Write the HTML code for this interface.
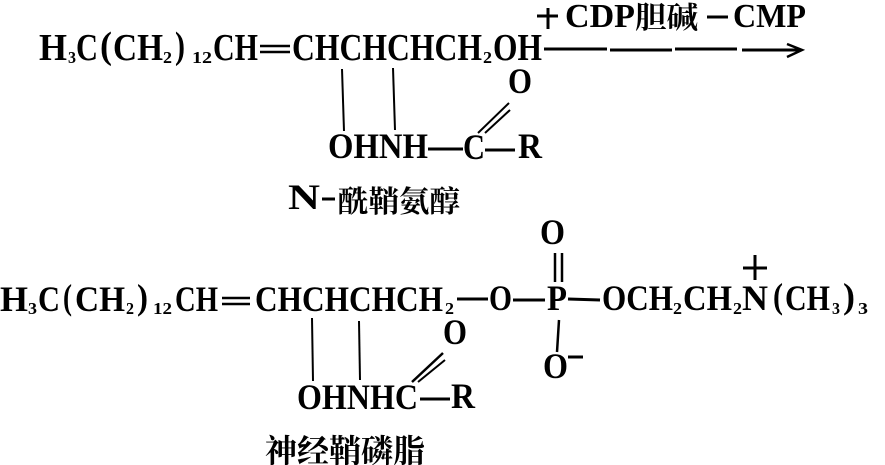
<!DOCTYPE html>
<html><head><meta charset="utf-8">
<style>
html,body{margin:0;padding:0;background:#fff;width:885px;height:465px;overflow:hidden}
svg{display:block}
text{font-family:"Liberation Serif","Noto Serif CJK SC",serif;font-weight:bold;fill:#000;font-size:36px}
.m{font-size:38px}
.t{font-size:34px}
.s{font-size:17px}
.c{font-family:"Noto Serif CJK SC","Liberation Serif",serif;font-size:30px}
line,path{stroke:#000;fill:none}
</style></head><body>
<svg width="885" height="465" viewBox="0 0 885 465" xmlns="http://www.w3.org/2000/svg">
<g>
<text class="m" x="39" y="60" textLength="28" lengthAdjust="spacingAndGlyphs">H</text>
<text class="s" x="68" y="63" textLength="8" lengthAdjust="spacingAndGlyphs">3</text>
<text class="m" x="76" y="60" textLength="22" lengthAdjust="spacingAndGlyphs">C</text>
<text class="m" x="100" y="58" textLength="12" lengthAdjust="spacingAndGlyphs">(</text>
<text class="m" x="113" y="60" textLength="50" lengthAdjust="spacingAndGlyphs">CH</text>
<text class="s" x="163" y="63" textLength="9" lengthAdjust="spacingAndGlyphs">2</text>
<text class="m" x="175" y="58" textLength="10" lengthAdjust="spacingAndGlyphs">)</text>
<text class="s" x="192" y="63" textLength="20" lengthAdjust="spacingAndGlyphs">12</text>
<text class="m" x="213" y="60" textLength="45" lengthAdjust="spacingAndGlyphs">CH</text>
<text class="m" x="292" y="60" textLength="190" lengthAdjust="spacingAndGlyphs">CHCHCHCH</text>
<text class="s" x="483" y="63" textLength="9" lengthAdjust="spacingAndGlyphs">2</text>
<text class="m" x="493" y="60" textLength="49" lengthAdjust="spacingAndGlyphs">OH</text>
<text x="508" y="93" textLength="24" lengthAdjust="spacingAndGlyphs">O</text>
<text x="328" y="158" textLength="100" lengthAdjust="spacingAndGlyphs">OHNH</text>
<text x="463" y="159" textLength="22" lengthAdjust="spacingAndGlyphs">C</text>
<text x="518" y="158" textLength="24" lengthAdjust="spacingAndGlyphs">R</text>
<text class="t" x="565" y="27" textLength="70" lengthAdjust="spacingAndGlyphs">CDP</text>
<text class="c" x="635" y="28" textLength="63" lengthAdjust="spacingAndGlyphs">胆碱</text>
<text class="t" x="733" y="27" textLength="73" lengthAdjust="spacingAndGlyphs">CMP</text>
<text x="288" y="209" textLength="32" lengthAdjust="spacingAndGlyphs">N</text>
<text class="c" x="338" y="212" textLength="122" lengthAdjust="spacingAndGlyphs">酰鞘氨醇</text>

<text x="0" y="311" textLength="28" lengthAdjust="spacingAndGlyphs">H</text>
<text class="s" x="28" y="314" textLength="9" lengthAdjust="spacingAndGlyphs">3</text>
<text x="38" y="311" textLength="22" lengthAdjust="spacingAndGlyphs">C</text>
<text x="63" y="309" textLength="9" lengthAdjust="spacingAndGlyphs">(</text>
<text x="75" y="311" textLength="50" lengthAdjust="spacingAndGlyphs">CH</text>
<text class="s" x="126" y="314" textLength="8" lengthAdjust="spacingAndGlyphs">2</text>
<text x="137" y="309" textLength="11" lengthAdjust="spacingAndGlyphs">)</text>
<text class="s" x="153" y="314" textLength="19" lengthAdjust="spacingAndGlyphs">12</text>
<text x="175" y="311" textLength="43" lengthAdjust="spacingAndGlyphs">CH</text>
<text x="255" y="311" textLength="188" lengthAdjust="spacingAndGlyphs">CHCHCHCH</text>
<text class="s" x="445" y="314" textLength="9" lengthAdjust="spacingAndGlyphs">2</text>
<text x="489" y="310" textLength="23" lengthAdjust="spacingAndGlyphs">O</text>
<text x="547" y="310" textLength="20" lengthAdjust="spacingAndGlyphs">P</text>
<text x="602" y="310" textLength="71" lengthAdjust="spacingAndGlyphs">OCH</text>
<text class="s" x="673" y="314" textLength="9" lengthAdjust="spacingAndGlyphs">2</text>
<text x="683" y="310" textLength="49" lengthAdjust="spacingAndGlyphs">CH</text>
<text class="s" x="733" y="314" textLength="9" lengthAdjust="spacingAndGlyphs">2</text>
<text x="742" y="310" textLength="26" lengthAdjust="spacingAndGlyphs">N</text>
<text x="773" y="308" textLength="10" lengthAdjust="spacingAndGlyphs">(</text>
<text x="785" y="310" textLength="45" lengthAdjust="spacingAndGlyphs">CH</text>
<text class="s" x="832" y="314" textLength="8" lengthAdjust="spacingAndGlyphs">3</text>
<text x="843" y="308" textLength="12" lengthAdjust="spacingAndGlyphs">)</text>
<text class="s" x="858" y="314" textLength="10" lengthAdjust="spacingAndGlyphs">3</text>
<text x="540" y="244" textLength="25" lengthAdjust="spacingAndGlyphs">O</text>
<text x="443" y="344" textLength="24" lengthAdjust="spacingAndGlyphs">O</text>
<text x="543" y="378" textLength="25" lengthAdjust="spacingAndGlyphs">O</text>
<text x="297" y="409" textLength="121" lengthAdjust="spacingAndGlyphs">OHNHC</text>
<text x="451" y="408" textLength="24" lengthAdjust="spacingAndGlyphs">R</text>
<text class="c" x="265" y="462" textLength="160" lengthAdjust="spacingAndGlyphs" style="font-size:32px">神经鞘磷脂</text>
</g>

<g stroke-width="2">
<line x1="260" y1="46" x2="290" y2="46" stroke-width="2.5"/>
<line x1="260" y1="52" x2="290" y2="52" stroke-width="2.5"/>
<line x1="342" y1="69" x2="344" y2="131"/>
<line x1="393" y1="68" x2="395" y2="130"/>
<line x1="428" y1="149" x2="463" y2="149" stroke-width="3"/>
<line x1="485" y1="150" x2="515" y2="150" stroke-width="3"/>
<line x1="478" y1="133" x2="509" y2="103"/>
<line x1="485" y1="133" x2="510" y2="110"/>
<line x1="322" y1="199" x2="335" y2="199" stroke-width="3"/>
<line x1="537" y1="16" x2="558" y2="16" stroke-width="3"/>
<line x1="548" y1="8" x2="548" y2="29" stroke-width="3"/>
<line x1="707" y1="17" x2="728" y2="17" stroke-width="3"/>
<line x1="544" y1="49" x2="607" y2="49" stroke-width="3"/>
<line x1="610" y1="50" x2="672" y2="50" stroke-width="3"/>
<line x1="675" y1="49" x2="737" y2="49" stroke-width="3"/>
<line x1="742" y1="50" x2="800" y2="50" stroke-width="3"/>
<path d="M787 44 L802 50 L787 57" stroke-width="2.5"/>

<line x1="222" y1="298" x2="250" y2="298" stroke-width="2.5"/>
<line x1="222" y1="304" x2="250" y2="304" stroke-width="2.5"/>
<line x1="312" y1="318" x2="313" y2="381"/>
<line x1="359" y1="321" x2="360" y2="380"/>
<line x1="457" y1="299" x2="488" y2="299" stroke-width="3"/>
<line x1="513" y1="300" x2="545" y2="300" stroke-width="3"/>
<line x1="568" y1="299" x2="600" y2="300" stroke-width="3"/>
<line x1="555" y1="253" x2="555" y2="282" stroke-width="2.5"/>
<line x1="562" y1="253" x2="562" y2="282" stroke-width="2.5"/>
<line x1="559" y1="320" x2="557" y2="352" stroke-width="2.5"/>
<line x1="568" y1="357" x2="583" y2="357" stroke-width="3"/>
<line x1="743" y1="268" x2="767" y2="268" stroke-width="3"/>
<line x1="755" y1="255" x2="755" y2="280" stroke-width="3"/>
<line x1="412" y1="382" x2="443" y2="353" stroke-width="2.5"/>
<line x1="418" y1="382" x2="445" y2="360" stroke-width="2"/>
<line x1="420" y1="399" x2="450" y2="399" stroke-width="3"/>
</g>
</svg>
</body></html>
